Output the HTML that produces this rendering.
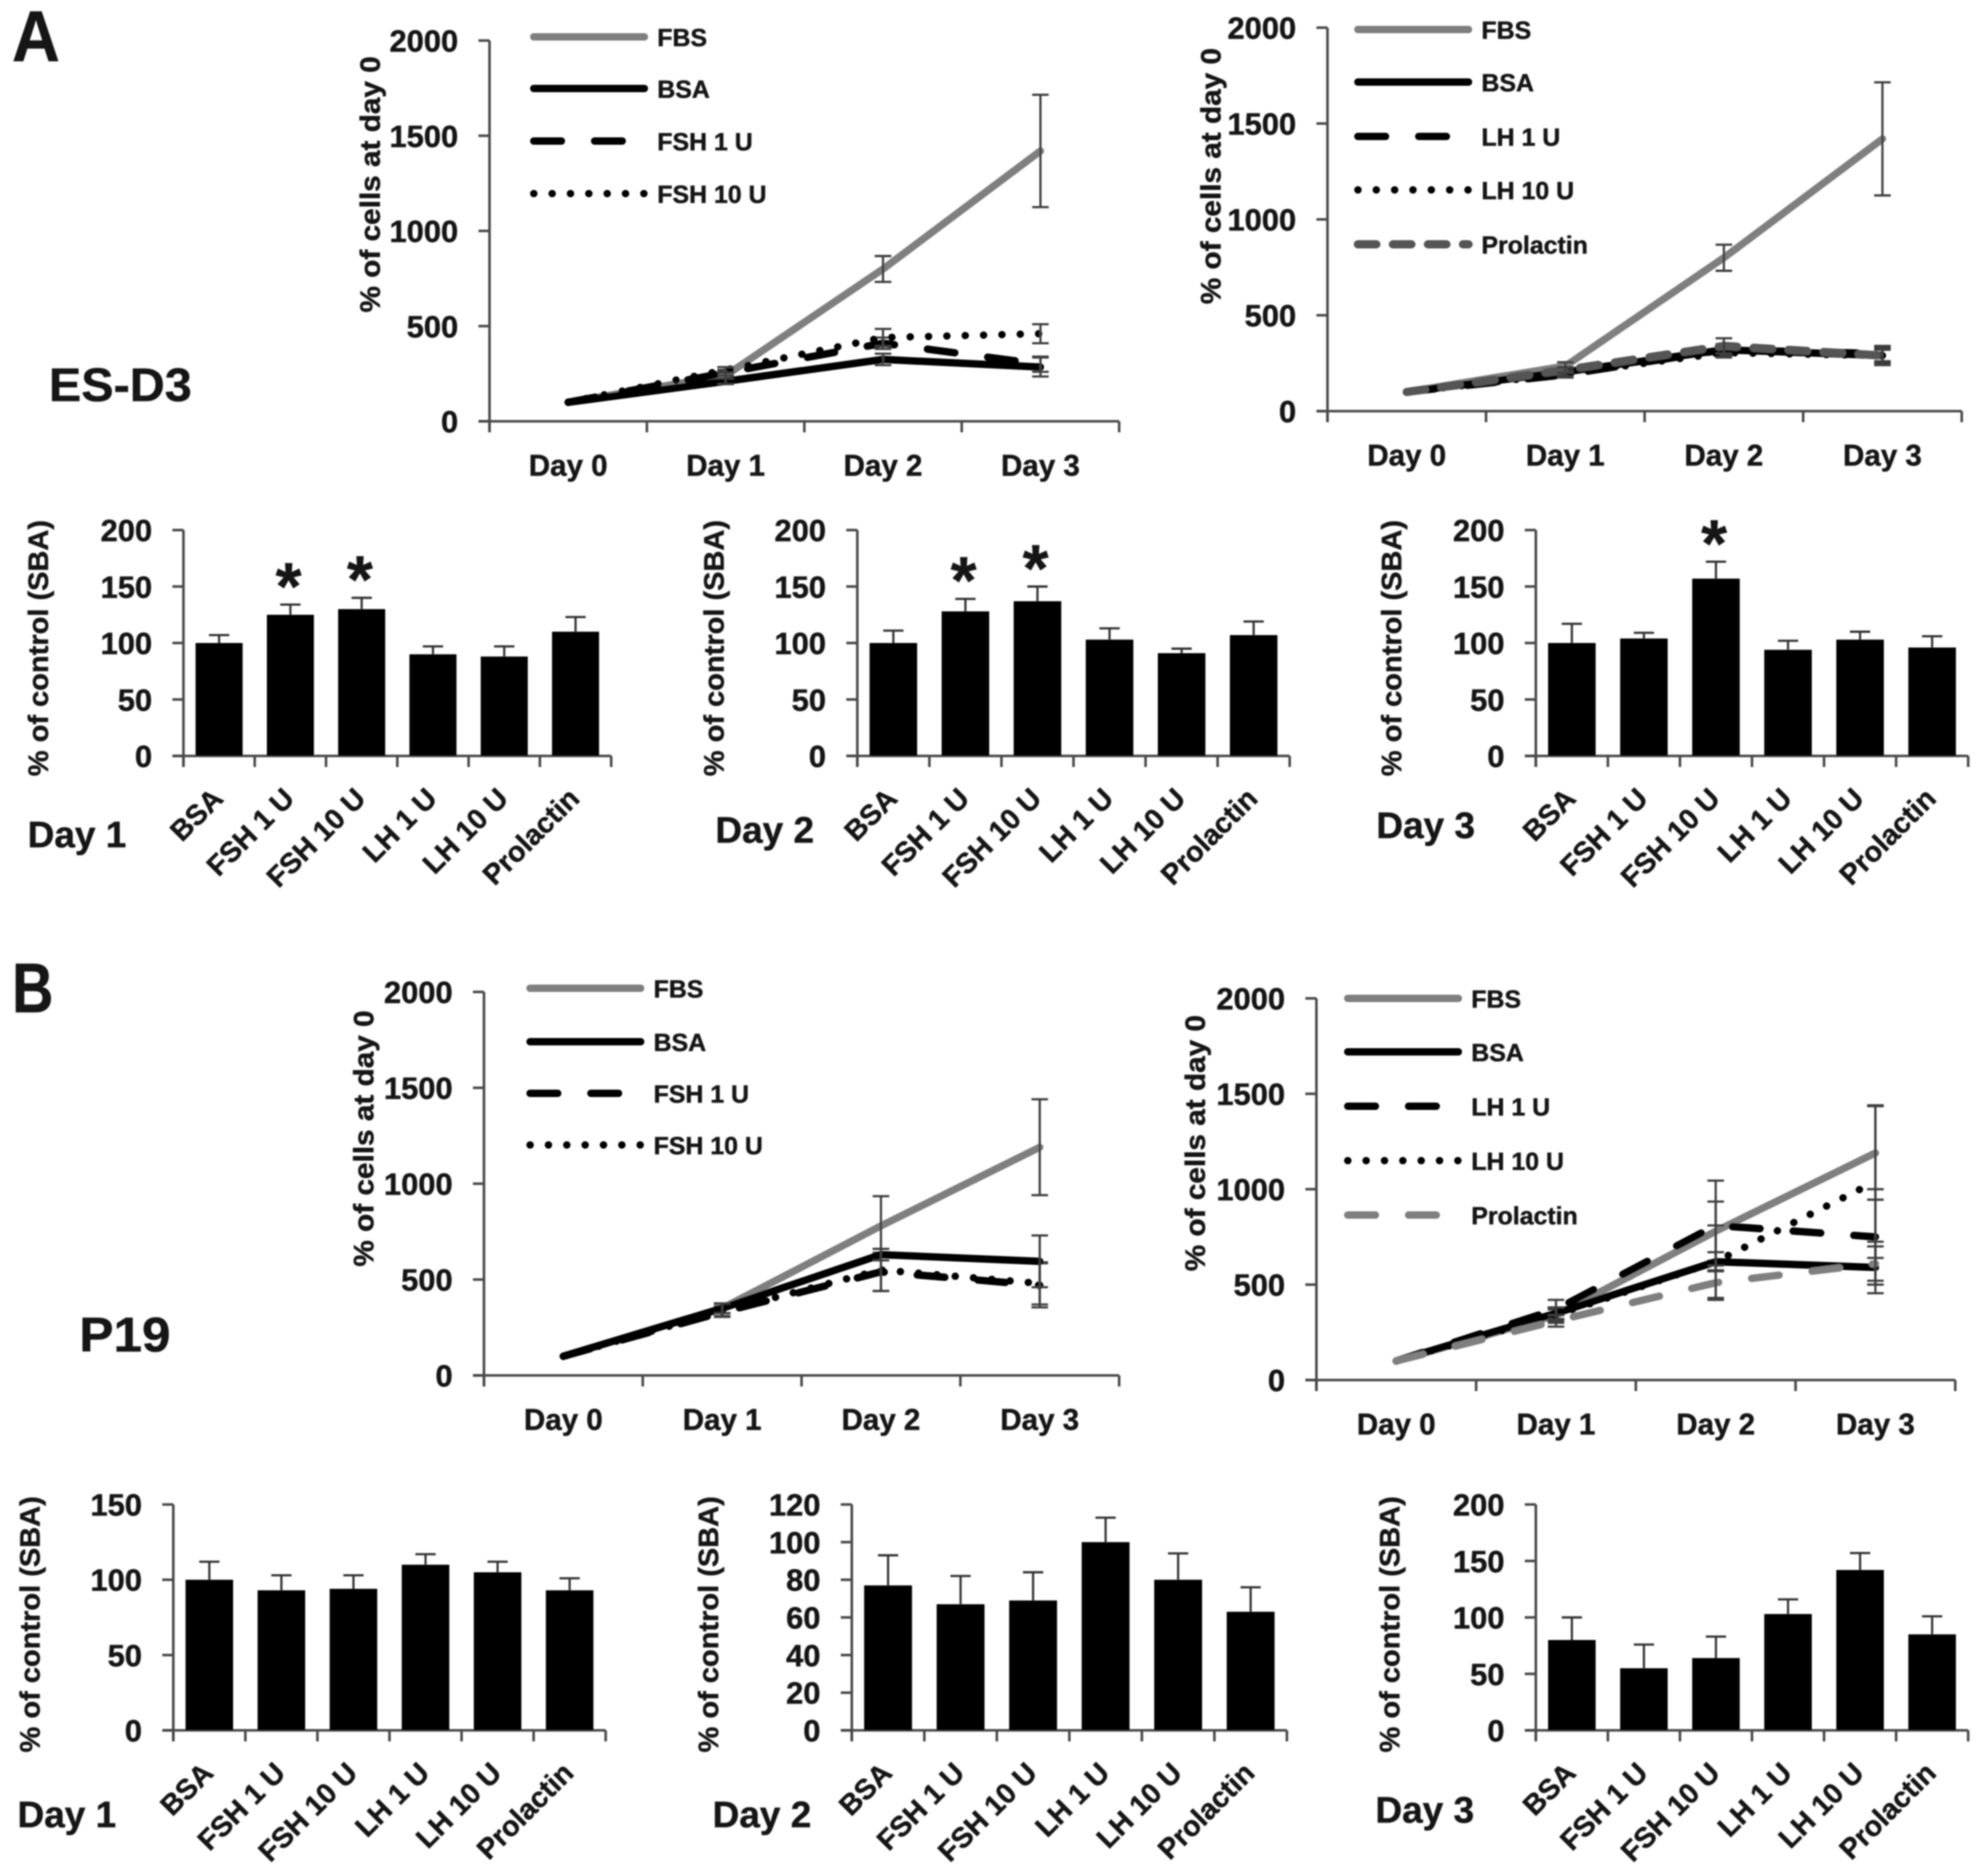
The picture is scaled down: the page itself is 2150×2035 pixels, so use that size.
<!DOCTYPE html>
<html lang="en">
<head>
<meta charset="utf-8">
<title>Cell proliferation charts</title>
<style>
html,body{margin:0;padding:0;background:#fff;}
svg{display:block;}
text{font-family:"Liberation Sans",sans-serif;font-weight:bold;fill:#141414;stroke:#141414;stroke-width:0.5px;}
</style>
</head>
<body>
<svg id="figure" xmlns="http://www.w3.org/2000/svg" width="2150" height="2035" viewBox="0 0 2150 2035">
  <defs><filter id="soft" x="-2%" y="-2%" width="104%" height="104%"><feGaussianBlur stdDeviation="0.8"/></filter></defs>
  <rect width="2150" height="2035" fill="#fff"/>
  <g id="root" filter="url(#soft)">
    <text x="13" y="66" font-size="78" textLength="52" lengthAdjust="spacingAndGlyphs">A</text>
    <text x="13" y="1098" font-size="76" textLength="45" lengthAdjust="spacingAndGlyphs">B</text>
    <text x="53" y="435" font-size="51" textLength="155" lengthAdjust="spacingAndGlyphs">ES-D3</text>
    <text x="86" y="1466" font-size="53" textLength="99" lengthAdjust="spacingAndGlyphs">P19</text>
    <text x="30" y="919" font-size="40" textLength="107" lengthAdjust="spacingAndGlyphs">Day 1</text>
    <text x="776" y="914" font-size="40" textLength="107" lengthAdjust="spacingAndGlyphs">Day 2</text>
    <text x="1493" y="909" font-size="40" textLength="107" lengthAdjust="spacingAndGlyphs">Day 3</text>
    <text x="19" y="1982" font-size="40" textLength="107" lengthAdjust="spacingAndGlyphs">Day 1</text>
    <text x="773" y="1982" font-size="40" textLength="107" lengthAdjust="spacingAndGlyphs">Day 2</text>
    <text x="1492" y="1977" font-size="40" textLength="107" lengthAdjust="spacingAndGlyphs">Day 3</text>
  </g>
</svg>
<script>
/* ---------- shared categories and ticks ---------- */
const days = ['Day 0', 'Day 1', 'Day 2', 'Day 3'];
const treatments = ['BSA', 'FSH 1 U', 'FSH 10 U', 'LH 1 U', 'LH 10 U', 'Prolactin'];
const lineTicks = [0, 500, 1000, 1500, 2000];
const barTicks200 = [0, 50, 100, 150, 200];
const barTicks150 = [0, 50, 100, 150];
const barTicks120 = [0, 20, 40, 60, 80, 100, 120];

/* ---------- panel A, FSH line chart ---------- */
const a1Fbs = [100, 240, 800, 1420];
const a1FbsErr = [0, 20, 68, 295];
const a1Bsa = [100, 210, 325, 285];
const a1BsaErr = [0, 15, 30, 50];
const a1Fsh1 = [100, 255, 410, 300];
const a1Fsh1Err = [0, 15, 30, 40];
const a1Fsh10 = [100, 270, 440, 460];
const a1Fsh10Err = [0, 15, 45, 50];

/* ---------- panel A, LH line chart ---------- */
const a2Fbs = [100, 235, 800, 1420];
const a2FbsErr = [0, 20, 68, 295];
const a2Bsa = [100, 205, 320, 290];
const a2BsaErr = [0, 20, 30, 50];
const a2Lh1 = [100, 190, 320, 300];
const a2Lh1Err = [0, 15, 30, 40];
const a2Lh10 = [100, 195, 305, 290];
const a2Lh10Err = [0, 15, 25, 30];
const a2Pro = [100, 215, 340, 290];
const a2ProErr = [0, 15, 40, 40];

/* ---------- panel B, FSH line chart ---------- */
const b1Fbs = [100, 350, 780, 1190];
const b1FbsErr = [0, 25, 155, 250];
const b1Bsa = [100, 350, 630, 595];
const b1BsaErr = [0, 25, 30, 135];
const b1Fsh1 = [100, 330, 540, 470];
const b1Fsh1Err = [0, 25, 100, 115];
const b1Fsh10 = [100, 335, 550, 480];
const b1Fsh10Err = [0, 25, 110, 110];

/* ---------- panel B, LH line chart ---------- */
const b2Fbs = [100, 340, 780, 1190];
const b2FbsErr = [0, 30, 155, 245];
const b2Bsa = [100, 350, 620, 590];
const b2BsaErr = [0, 30, 50, 135];
const b2Lh1 = [100, 370, 810, 750];
const b2Lh1Err = [0, 50, 235, 250];
const b2Lh10 = [100, 340, 620, 1040];
const b2Lh10Err = [0, 40, 190, 400];
const b2Pro = [100, 310, 510, 610];
const b2ProErr = [0, 30, 90, 90];

/* ---------- bar charts: means and upper error limits ---------- */
const aDay1Values = [100, 125, 130, 90, 88, 110];
const aDay1Tops = [107, 134, 140, 97, 97, 123];
const aDay1Stars = [false, true, true, false, false, false];
const aDay2Values = [100, 128, 137, 103, 91, 107];
const aDay2Tops = [111, 139, 150, 113, 95, 119];
const aDay2Stars = [false, true, true, false, false, false];
const aDay3Values = [100, 104, 157, 94, 103, 96];
const aDay3Tops = [117, 109, 172, 102, 110, 106];
const aDay3Stars = [false, false, true, false, false, false];
const bDay1Values = [100, 93, 94, 110, 105, 93];
const bDay1Tops = [112, 103, 103, 117, 112, 101];
const bDay2Values = [77, 67, 69, 100, 80, 63];
const bDay2Tops = [93, 82, 84, 113, 94, 76];
const bDay3Values = [80, 55, 64, 103, 142, 85];
const bDay3Tops = [100, 76, 83, 116, 157, 101];

const SVGNS = 'http://www.w3.org/2000/svg';
const root = document.getElementById('root');

function make(tag, parent, name, attrs) {
  const el = document.createElementNS(SVGNS, tag);
  
  
  for (const k in attrs) el.setAttribute(k, attrs[k]);
  parent.appendChild(el);
  return el;
}
function label(parent, name, str, attrs) {
  const t = make('text', parent, name, attrs);
  t.textContent = str;
  return t;
}
function seg(parent, name, x1, y1, x2, y2, color, w) {
  return make('line', parent, name, {x1: x1, y1: y1, x2: x2, y2: y2, stroke: color, 'stroke-width': w});
}
const AXIS = '#4a4a4a';
const TICK_FONT = 33.5;

function axes(g, box, ticks, maxV, count, title, titleX, titleY, slug) {
  const yOf = v => box.y0 - (v / maxV) * (box.y0 - box.yTop);
  seg(g, slug + '-y-axis', box.x0, box.yTop, box.x0, box.y0 + 12, AXIS, 2.8);
  seg(g, slug + '-x-axis', box.x0 - 12, box.y0, box.x1, box.y0, AXIS, 2.8);
  ticks.forEach(v => {
    seg(g, slug + '-y-tick', box.x0 - 12, yOf(v), box.x0, yOf(v), AXIS, 2.8);
    label(g, slug + '-y-tick-label', String(v), {x: box.x0 - 34, y: yOf(v) + 12, 'font-size': TICK_FONT, 'text-anchor': 'end'});
  });
  for (let i = 0; i <= count; i++) {
    const x = box.x0 + (box.x1 - box.x0) * i / count;
    seg(g, slug + '-x-tick', x, box.y0, x, box.y0 + 12, AXIS, 2.8);
  }
  label(g, slug + '-y-axis-title', title, {
    transform: 'translate(' + titleX + ',' + titleY + ') rotate(-90)',
    'font-size': 31, 'text-anchor': 'middle', textLength: 278, lengthAdjust: 'spacingAndGlyphs'
  });
  return yOf;
}

const STYLES = {
  fbs: {color: '#7f7f7f', w: 8, dash: null},
  bsa: {color: '#000', w: 8, dash: null},
  dash: {color: '#000', w: 8, dash: '30 36'},
  dot: {color: '#000', w: 8, dash: '0.1 19.8'},
  proDark: {color: '#555', w: 9, dash: '20 18'},
  proLight: {color: '#7f7f7f', w: 8, dash: '30 36'}
};

function lineChart(slug, box, series, legend, title, titleX, titleY) {
  const g = make('g', root, slug, {});
  const yOf = axes(g, box, lineTicks, 2000, days.length, title, titleX, titleY, slug);
  const xOf = i => box.x0 + (box.x1 - box.x0) * (i + 0.5) / days.length;
  days.forEach((d, i) => {
    label(g, slug + '-x-tick-label', d, {x: xOf(i), y: box.y0 + 59, 'font-size': 32, 'text-anchor': 'middle'});
  });
  series.forEach((s, n) => {
    const st = STYLES[s.style];
    const sg = make('g', g, slug + '-series-' + s.name.toLowerCase().replace(/ /g, '-'), {});
    const pts = s.values.map((v, i) => xOf(i) + ',' + yOf(v)).join(' ');
    const attrs = {points: pts, fill: 'none', stroke: st.color, 'stroke-width': st.w, 'stroke-linecap': 'round', 'stroke-linejoin': 'round'};
    if (st.dash) attrs['stroke-dasharray'] = st.dash;
    make('polyline', sg, 'series-line', attrs);
    s.err.forEach((e, i) => {
      if (!e) return;
      const x = xOf(i);
      const top = yOf(s.values[i] + e);
      const bot = yOf(s.values[i] - e);
      seg(sg, 'error-bar', x, top, x, bot, '#3c3c3c', 2.4);
      seg(sg, 'error-cap', x - 9, top, x + 9, top, '#3c3c3c', 2.4);
      seg(sg, 'error-cap', x - 9, bot, x + 9, bot, '#3c3c3c', 2.4);
    });
    const ly = legend.ys[n];
    const la = {x1: legend.x, y1: ly, x2: legend.x + 120, y2: ly, stroke: st.color, 'stroke-width': st.w, 'stroke-linecap': 'round'};
    if (st.dash) la['stroke-dasharray'] = st.dash;
    make('line', g, 'legend-swatch', la);
    label(g, 'legend-entry', s.name, {x: legend.x + 134, y: ly + 10, 'font-size': 27});
  });
}

function barChart(slug, box, values, tops, stars, ticks, maxV, titleX, titleY) {
  const g = make('g', root, slug, {});
  const yOf = axes(g, box, ticks, maxV, treatments.length, '% of control (SBA)', titleX, titleY, slug);
  const cat = (box.x1 - box.x0) / treatments.length;
  treatments.forEach((t, i) => {
    const cx = box.x0 + cat * (i + 0.5);
    const bw = cat * 0.66;
    seg(g, 'error-bar', cx, yOf(tops[i]), cx, yOf(values[i]), '#333', 2.4);
    seg(g, 'error-cap', cx - 11, yOf(tops[i]), cx + 11, yOf(tops[i]), '#333', 2.4);
    make('rect', g, 'bar-' + t.toLowerCase().replace(/ /g, '-'), {
      x: cx - bw / 2, y: yOf(values[i]), width: bw, height: box.y0 - yOf(values[i]), fill: '#000'
    });
    label(g, slug + '-category-label', t, {
      transform: 'translate(' + (cx + 6) + ',' + (box.y0 + 48) + ') rotate(-45)',
      'font-size': 31, 'text-anchor': 'end'
    });
    if (stars && stars[i]) {
      label(g, 'significance-star', '*', {x: cx - 2, y: yOf(tops[i]) + 5, 'font-size': 72, 'text-anchor': 'middle'});
    }
  });
}

lineChart('line-chart-a-fsh', {x0: 531, x1: 1214, y0: 457, yTop: 44}, [
  {name: 'FBS', style: 'fbs', values: a1Fbs, err: a1FbsErr},
  {name: 'BSA', style: 'bsa', values: a1Bsa, err: a1BsaErr},
  {name: 'FSH 1 U', style: 'dash', values: a1Fsh1, err: a1Fsh1Err},
  {name: 'FSH 10 U', style: 'dot', values: a1Fsh10, err: a1Fsh10Err}
], {x: 579, ys: [40, 96, 153, 210]}, '% of cells at day 0', 412, 200);

lineChart('line-chart-a-lh', {x0: 1440, x1: 2128, y0: 446, yTop: 30}, [
  {name: 'FBS', style: 'fbs', values: a2Fbs, err: a2FbsErr},
  {name: 'BSA', style: 'bsa', values: a2Bsa, err: a2BsaErr},
  {name: 'LH 1 U', style: 'dash', values: a2Lh1, err: a2Lh1Err},
  {name: 'LH 10 U', style: 'dot', values: a2Lh10, err: a2Lh10Err},
  {name: 'Prolactin', style: 'proDark', values: a2Pro, err: a2ProErr}
], {x: 1473, ys: [32, 89, 148, 206, 265]}, '% of cells at day 0', 1324, 191);

lineChart('line-chart-b-fsh', {x0: 525, x1: 1214, y0: 1492, yTop: 1076}, [
  {name: 'FBS', style: 'fbs', values: b1Fbs, err: b1FbsErr},
  {name: 'FSH 1 U', style: 'dash', values: b1Fsh1, err: b1Fsh1Err},
  {name: 'FSH 10 U', style: 'dot', values: b1Fsh10, err: b1Fsh10Err},
  {name: 'BSA', style: 'bsa', values: b1Bsa, err: b1BsaErr}
], {x: 575, ys: [1072, 1186, 1242, 1130]}, '% of cells at day 0', 405, 1235);

lineChart('line-chart-b-lh', {x0: 1428, x1: 2121, y0: 1497, yTop: 1083}, [
  {name: 'FBS', style: 'fbs', values: b2Fbs, err: b2FbsErr},
  {name: 'BSA', style: 'bsa', values: b2Bsa, err: b2BsaErr},
  {name: 'LH 1 U', style: 'dash', values: b2Lh1, err: b2Lh1Err},
  {name: 'LH 10 U', style: 'dot', values: b2Lh10, err: b2Lh10Err},
  {name: 'Prolactin', style: 'proLight', values: b2Pro, err: b2ProErr}
], {x: 1462, ys: [1083, 1141, 1200, 1259, 1318]}, '% of cells at day 0', 1307, 1240);

barChart('bar-chart-a-day-1', {x0: 199, x1: 663, y0: 820, yTop: 575}, aDay1Values, aDay1Tops, aDay1Stars, barTicks200, 200, 52, 703);
barChart('bar-chart-a-day-2', {x0: 930, x1: 1399, y0: 820, yTop: 575}, aDay2Values, aDay2Tops, aDay2Stars, barTicks200, 200, 785, 703);
barChart('bar-chart-a-day-3', {x0: 1666, x1: 2135, y0: 820, yTop: 575}, aDay3Values, aDay3Tops, aDay3Stars, barTicks200, 200, 1520, 703);
barChart('bar-chart-b-day-1', {x0: 188, x1: 657, y0: 1877, yTop: 1632}, bDay1Values, bDay1Tops, null, barTicks150, 150, 43, 1762);
barChart('bar-chart-b-day-2', {x0: 924, x1: 1396, y0: 1877, yTop: 1632}, bDay2Values, bDay2Tops, null, barTicks120, 120, 779, 1762);
barChart('bar-chart-b-day-3', {x0: 1666, x1: 2135, y0: 1877, yTop: 1632}, bDay3Values, bDay3Tops, null, barTicks200, 200, 1518, 1762);
</script>
</body>
</html>
